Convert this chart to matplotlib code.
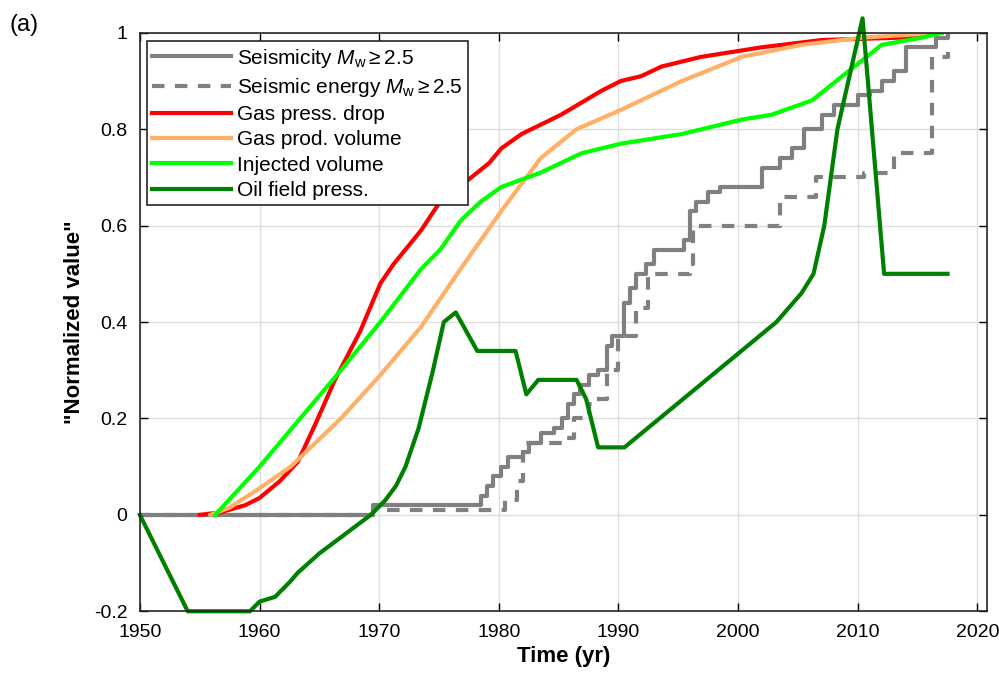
import matplotlib
matplotlib.use('Agg')
import matplotlib.pyplot as plt

plt.rcParams['font.family'] = ['Liberation Sans', 'DejaVu Sans']
plt.rcParams['mathtext.fontset'] = 'custom'
plt.rcParams['mathtext.it'] = 'Liberation Sans:italic'
plt.rcParams['mathtext.rm'] = 'Liberation Sans'

# datos
anio_sis = [1950, 1969.5, 1978.5, 1979, 1979.5, 1980.2, 1980.8, 1982, 1982.5, 1983.5, 1984.6, 1985.3,
            1985.8, 1986.3, 1986.8, 1987.5, 1988.3, 1989, 1989.5, 1990.5, 1991, 1991.5, 1992.3, 1993,
            1995.5, 1996, 1996.5, 1997.5, 1998.5, 2002, 2003.5, 2004.5, 2005.5, 2007, 2008, 2010,
            2011, 2012, 2013, 2014, 2016.5, 2017.5]
val_sis = [0, 0.02, 0.04, 0.06, 0.08, 0.10, 0.12, 0.13, 0.15, 0.17, 0.18, 0.20,
           0.23, 0.25, 0.27, 0.29, 0.30, 0.35, 0.37, 0.44, 0.47, 0.50, 0.52, 0.55,
           0.57, 0.63, 0.65, 0.67, 0.68, 0.72, 0.74, 0.76, 0.80, 0.83, 0.85, 0.87,
           0.88, 0.90, 0.92, 0.97, 0.99, 1.0]

anio_ene = [1950, 1969.5, 1980.5, 1981.5, 1982, 1985.7, 1986.3, 1987.5, 1988, 1989, 1990, 1991.5,
            1992.5, 1996, 1996.2, 2003.3, 2003.5, 2006.5, 2010.5, 2013, 2016.2, 2017.5]
val_ene = [0, 0.01, 0.03, 0.07, 0.15, 0.16, 0.20, 0.23, 0.24, 0.30, 0.37, 0.43,
           0.50, 0.52, 0.60, 0.60, 0.66, 0.70, 0.71, 0.75, 0.95, 0.96]

anio_gas = [1955, 1956.7, 1958.8, 1960, 1961.7, 1963.2, 1964.7, 1966.3, 1968.4, 1970.1, 1971.2, 1973.5,
            1975.1, 1977.7, 1979.2, 1980.2, 1981.9, 1985.2, 1988.6, 1990.2, 1991.9, 1993.6, 1996.9,
            2002, 2007, 2013.7, 2017]
val_gas = [0, 0.005, 0.02, 0.035, 0.07, 0.11, 0.19, 0.28, 0.38, 0.48, 0.52, 0.59,
           0.65, 0.70, 0.73, 0.76, 0.79, 0.83, 0.88, 0.90, 0.91, 0.93, 0.95,
           0.97, 0.985, 0.99, 1.0]

anio_prod = [1955.9, 1957.5, 1960, 1962.6, 1966.8, 1970.1, 1973.5, 1976.8, 1980.2, 1983.5, 1986.5,
             1990.2, 1995.3, 2000.3, 2005.3, 2010.4, 2017]
val_prod = [0, 0.015, 0.055, 0.10, 0.20, 0.29, 0.39, 0.51, 0.63, 0.74, 0.80,
            0.84, 0.90, 0.95, 0.975, 0.99, 1.0]

anio_iny = [1956.3, 1960, 1963.4, 1966.8, 1970.1, 1973.5, 1975.1, 1976.8, 1978.5, 1980.2, 1983.5,
            1986.9, 1990.2, 1995.3, 2000.3, 2002.8, 2006.2, 2008.7, 2012, 2015.4, 2017]
val_iny = [0, 0.10, 0.20, 0.30, 0.40, 0.51, 0.55, 0.61, 0.65, 0.68, 0.71,
           0.75, 0.77, 0.79, 0.82, 0.83, 0.86, 0.91, 0.975, 0.99, 1.0]

anio_oil = [1950, 1954, 1959.2, 1960, 1961.3, 1962.5, 1963.2, 1965, 1969.3, 1970.5, 1971.4, 1972.2,
            1973.3, 1973.9, 1974.5, 1975.4, 1976.4, 1978.2, 1981.4, 1982.3, 1983.3, 1986.5, 1987.3,
            1988.3, 1990.5, 2003.2, 2005.3, 2006.3, 2007.2, 2008.3, 2010.4, 2012.2, 2017.5]
val_oil = [0, -0.2, -0.2, -0.18, -0.17, -0.14, -0.12, -0.08, 0, 0.03, 0.06, 0.10,
           0.18, 0.24, 0.30, 0.40, 0.42, 0.34, 0.34, 0.25, 0.28, 0.28, 0.24,
           0.14, 0.14, 0.40, 0.46, 0.50, 0.60, 0.80, 1.03, 0.50, 0.50]

fig = plt.figure(figsize=(9.99, 6.83), dpi=100)
ax = fig.add_axes([0.14, 0.105, 0.848, 0.847])

ax.step(anio_sis, val_sis, where='post', color='#808080', lw=3, label=r'Seismicity $M_\mathrm{w} \geq 2.5$')
ax.step(anio_ene, val_ene, where='post', color='#808080', lw=3, ls=(0, (3, 2.5)),
        label=r'Seismic energy $M_\mathrm{w} \geq 2.5$')
ax.plot(anio_gas, val_gas, color='#ff0000', lw=3, label='Gas press. drop')
ax.plot(anio_prod, val_prod, color='#ffb066', lw=3, label='Gas prod. volume')
ax.plot(anio_iny, val_iny, color='#00ff00', lw=3, label='Injected volume')
ax.plot(anio_oil, val_oil, color='#008000', lw=3, label='Oil field press.', clip_on=False)

ax.set_xlim(1950, 2020.8)
ax.set_ylim(-0.2, 1.0)
ax.set_xticks(range(1950, 2021, 10))
ax.set_yticks([-0.2, 0, 0.2, 0.4, 0.6, 0.8, 1])
ax.set_yticklabels(['-0.2', '0', '0.2', '0.4', '0.6', '0.8', '1'])
ax.tick_params(direction='in', top=True, right=True, labelsize=14, length=6, width=1, pad=9)
ax.grid(True, color='#dddddd', lw=1)
for s in ax.spines.values():
    s.set_linewidth(1.2)
    s.set_color('#262626')

ax.set_xlabel('Time (yr)', fontsize=16, fontweight='bold', labelpad=4)
ax.set_ylabel('"Normalized value"', fontsize=16, fontweight='bold', labelpad=6)

leg = ax.legend(loc='upper left', bbox_to_anchor=(0.008, 0.985), fontsize=15, fancybox=False,
                framealpha=1, edgecolor='#262626', handlelength=3.8, handletextpad=0.3,
                borderpad=0.25, labelspacing=0.3, borderaxespad=0)
leg.get_frame().set_linewidth(1.2)

fig.text(0.01, 0.955, '(a)', fontsize=17)

fig.savefig('out.png', dpi=100)
